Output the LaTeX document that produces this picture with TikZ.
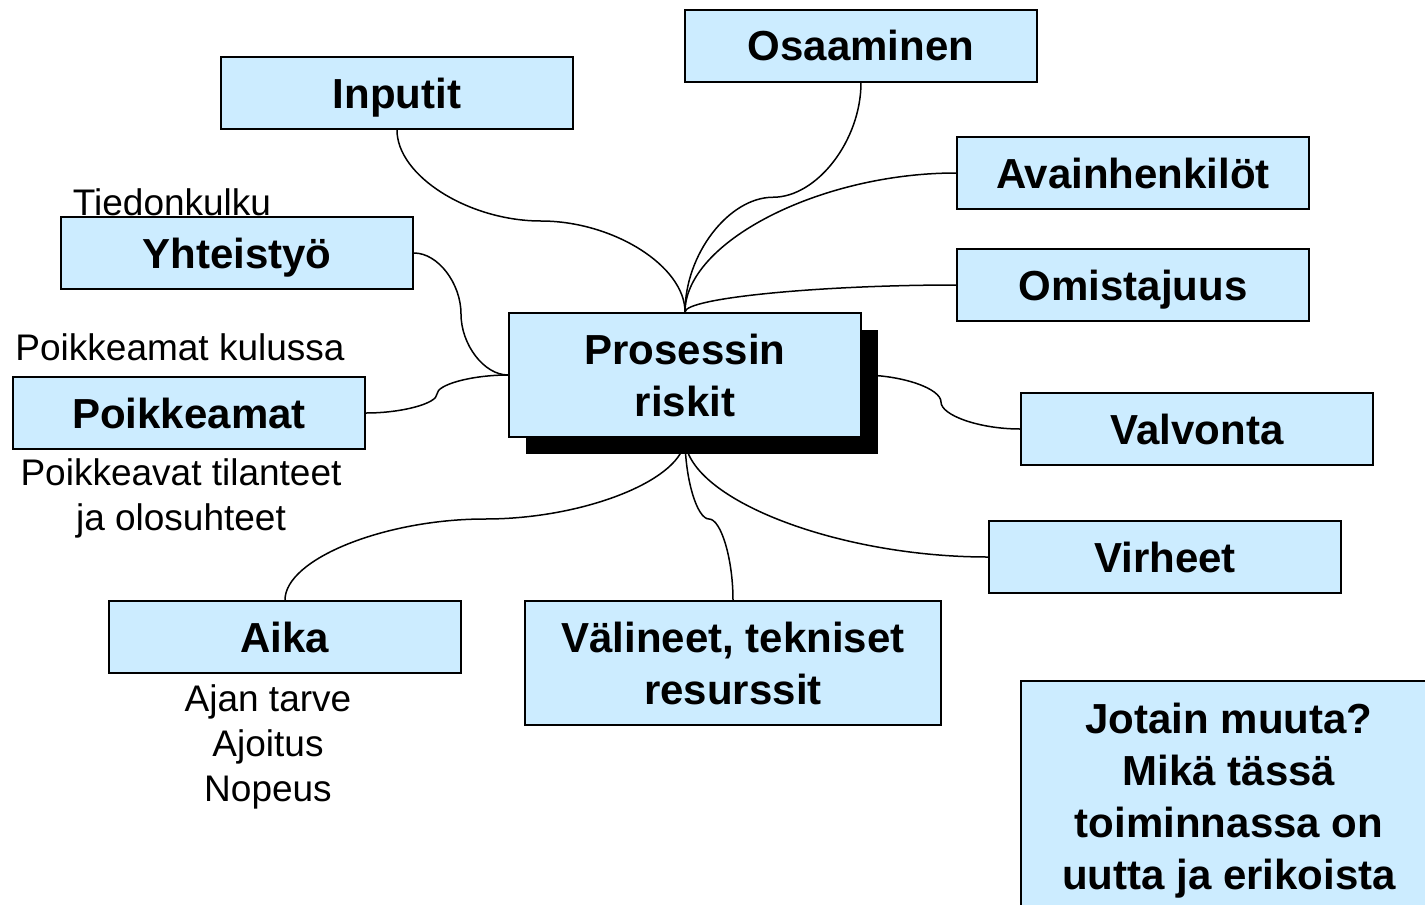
\documentclass[tikz,border=0pt]{standalone}
\usepackage{fontspec}
\setmainfont{Liberation Sans}
\usetikzlibrary{positioning, calc, backgrounds, shadows}
\definecolor{boxblue}{RGB}{204,236,255}

\begin{document}
\begin{tikzpicture}[
        x=0.5pt, y=-0.5pt,
        box/.style={rectangle, draw=black, line width=1pt, fill=boxblue, minimum width=176pt, minimum height=36pt, inner sep=0pt, text depth=0pt, align=center, font=\fontsize{21}{26}\selectfont\bfseries},
        note/.style={inner sep=0pt, align=center, font=\fontsize{18.5}{22.5}\selectfont},
        link/.style={line width=0.75pt}
    ]
        \useasboundingbox (0,0) rectangle (1425,905);

        \node[box, minimum height=62pt, drop shadow={shadow xshift=8.5pt, shadow yshift=-8.5pt, opacity=1, fill=black}] (risk) at (685,375) {Prosessin\\riskit};

        \node[box] (osaaminen) at (861,45.5) {Osaaminen};
        \node[box] (inputit) at (397,93) {Inputit};
        \node[box] (avain) at (1133,173) {Avainhenkilöt};
        \node[box] (omist) at (1133,285) {Omistajuus};
        \node[box] (yhteis) at (237,253) {Yhteistyö};
        \node[box] (poikk) at (189,413) {Poikkeamat};
        \node[box] (valv) at (1197,429) {Valvonta};
        \node[box] (virh) at (1165,557) {Virheet};
        \node[box] (aika) at (285,637) {Aika};
        \node[box, minimum width=208pt, minimum height=62pt] (valin) at (733,663) {Välineet, tekniset\\resurssit};
        \node[box, minimum width=208pt, minimum height=115pt] (muuta) at (1229,796) {Jotain muuta?\\Mikä tässä\\toiminnassa on\\uutta ja erikoista};

        \node[note, anchor=base] (tiedon) at (172,215) {Tiedonkulku};
        \node[note, anchor=base] (kulussa) at (180,360) {Poikkeamat kulussa};
        \node[note, anchor=base] (tilanteet) at (181,530) {Poikkeavat tilanteet\\ja olosuhteet};
        \node[note, anchor=base] (ajan) at (268,801) {Ajan tarve\\Ajoitus\\Nopeus};

        \begin{scope}[on background layer]
        \draw[link] (inputit.south) .. controls +(0,46) and +(-72,0) .. ($(inputit.south)!.5!(risk.north)$) .. controls +(72,0) and +(0,-46) .. (risk.north);
        \draw[link] (osaaminen.south) .. controls +(0,58) and +(44,0) .. ($(osaaminen.south)!.5!(risk.north)$) .. controls +(-44,0) and +(0,-58) .. (risk.north);
        \draw[link] (avain.west) .. controls +(-136,0) and +(0,-70) .. (risk.north);
        \draw[link] (omist.west) .. controls +(-136,0) and +(0,-14) .. (risk.north);
        \draw[link] (yhteis.east) .. controls +(24,0) and +(0,-30.5) .. ($(yhteis.east)!.5!(risk.west)$) .. controls +(0,30.5) and +(-24,0) .. (risk.west);
        \draw[link] (poikk.east) .. controls +(36,0) and +(0,9.5) .. ($(poikk.east)!.5!(risk.west)$) .. controls +(0,-9.5) and +(-36,0) .. (risk.west);
        \draw[link] (risk.east) .. controls +(40,0) and +(0,-13.5) .. ($(risk.east)!.5!(valv.west)$) .. controls +(0,13.5) and +(-40,0) .. (valv.west);
        \draw[link] (risk.south) .. controls +(0,60) and +(-152,0) .. (virh.west);
        \draw[link] (risk.south) .. controls +(0,41) and +(100,0) .. ($(risk.south)!.5!(aika.north)$) .. controls +(-100,0) and +(0,-41) .. (aika.north);
        \draw[link] (risk.south) .. controls +(0,41) and +(-12,0) .. ($(risk.south)!.5!(valin.north)$) .. controls +(12,0) and +(0,-41) .. (valin.north);
        \end{scope}
    \end{tikzpicture}
\end{document}
